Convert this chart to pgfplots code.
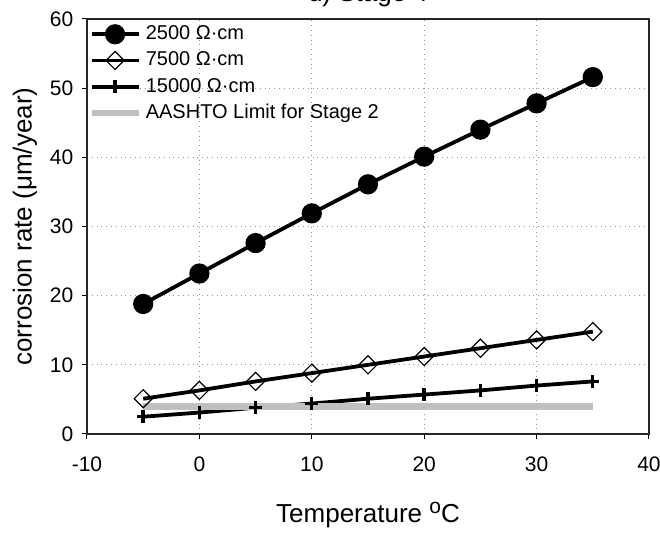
\documentclass[border=0pt]{standalone}
\usepackage{pgfplots}
\pgfplotsset{compat=1.18}
\usepackage{fontspec}
\setmainfont{Liberation Sans}
\definecolor{limitgray}{RGB}{192,192,192}
\definecolor{gridgray}{RGB}{150,150,150}

\begin{document}
\begin{tikzpicture}
\begin{axis}[
  scale only axis,
  width=281pt, height=207.5pt,
  xmin=-10, xmax=40, ymin=0, ymax=60,
  xtick={-10,0,...,40}, ytick={0,10,...,60},
  tick align=outside, xtick pos=bottom, ytick pos=left,
  major tick length=2.5pt,
  tick style={black, line width=0.5pt},
  axis line style={line width=0.6pt, black!85},
  ticklabel style={font=\fontsize{10.5}{12}\selectfont},
  xticklabel style={yshift=-5.5pt},
  yticklabel style={xshift=-0.8pt},
  /pgf/number format/assume math mode=true,
  ymajorgrids, xmajorgrids,
  grid style={dotted, gridgray, line width=0.6pt},
  title={d) Stage 4},
  title style={font=\fontsize{13}{14}\selectfont, anchor=base, at={(rel axis cs:0.5,1)}, yshift=2.5pt},
  xlabel={Temperature \raisebox{0.6ex}{\fontsize{10.5}{12}\selectfont o}C},
  every axis x label/.style={at={(rel axis cs:0.5,0)}, yshift=-40.5pt, anchor=center, font=\fontsize{13}{14}\selectfont},
  ylabel={corrosion rate (μm/year)},
  every axis y label/.style={at={(rel axis cs:0,0.5)}, xshift=-31pt, rotate=90, anchor=center, font=\fontsize{13}{14}\selectfont},
  legend style={at={(rel axis cs:0,1)}, anchor=north west, draw=none, fill=none,
    font=\fontsize{10}{11}\selectfont, row sep=0.6pt, inner xsep=0.5pt, inner ysep=1.2pt},
  legend cell align=left,
  legend image code/.code={
    \draw[mark repeat=2, mark phase=2, #1] plot coordinates {(0pt,0pt) (11.75pt,0pt) (23.5pt,0pt)};},
]
\addplot[black, line width=1.9pt, mark=*, mark size=4.1pt] coordinates {
  (-5,18.8) (0,23.2) (5,27.6) (10,31.9) (15,36.1) (20,40.1) (25,44.0) (30,47.8) (35,51.6)};
\addlegendentry{2500 Ω·cm}
\addplot[black, line width=1.9pt, mark=square, mark size=3.2pt,
  mark options={rotate=45, fill=white, line width=0.6pt}] coordinates {
  (-5,5.1) (0,6.3) (5,7.6) (10,8.8) (15,10.0) (20,11.2) (25,12.4) (30,13.6) (35,14.8)};
\addlegendentry{7500 Ω·cm}
\addplot[black, line width=1.9pt, mark=+, mark size=3.2pt, mark options={line width=1.7pt}] coordinates {
  (-5,2.5) (0,3.1) (5,3.8) (10,4.4) (15,5.1) (20,5.7) (25,6.3) (30,7.0) (35,7.6)};
\addlegendentry{15000 Ω·cm}
\addplot[limitgray, line width=3.2pt] coordinates {(-5,4.0) (35,4.0)};
\addlegendentry{AASHTO Limit for Stage 2}
\end{axis}
\pgfresetboundingbox
\path[use as bounding box] (-43.5pt,-49.5pt) rectangle (286.5pt,217pt);
\end{tikzpicture}
\end{document}
